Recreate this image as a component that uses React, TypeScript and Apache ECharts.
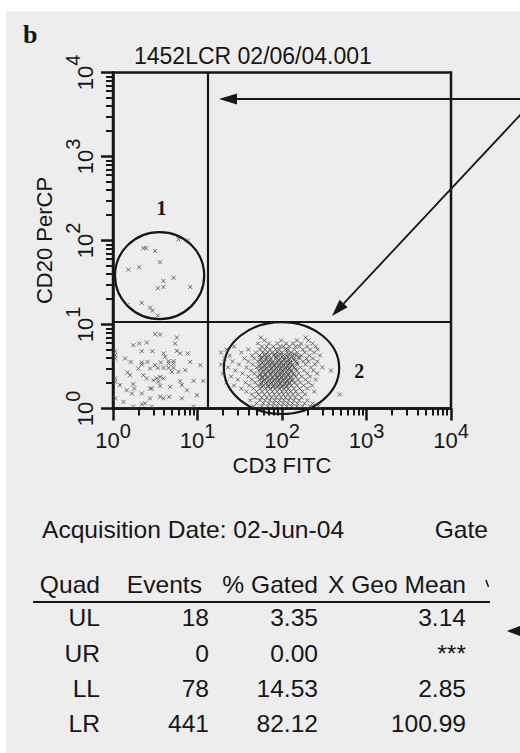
import React, { useEffect, useRef } from 'react';
import * as echarts from 'echarts';

const FONT = '"Liberation Sans", Arial, Helvetica, sans-serif';
const SERIF = '"Liberation Serif", "Times New Roman", Times, serif';
const INK = '#161616';
const DOT = '#474747';

// ---- text ----
const panelLetter = 'b';
const titleText = '1452LCR 02/06/04.001';
const xAxisName = 'CD3 FITC';
const yAxisName = 'CD20 PerCP';
const acquisitionText = 'Acquisition Date: 02-Jun-04';
const gateText = 'Gate';

// ---- axes ----
const axisMin = 1;
const axisMax = 10000;
const minorDecades = [0, 1, 2, 3];
const minorMultipliers = [2, 3, 4, 5, 6, 7, 8, 9];

// ---- quadrant cursors (data units) ----
const quadrantX = 13.4;
const quadrantY = 10.65;

// ---- events ----
const ulPoints: number[][] = [
  [2.29, 81], [2.46, 81], [3.15, 75], [3.61, 55], [1.52, 45], [2.04, 48], [3.95, 33], [5.2, 36],
  [3.95, 28], [3.39, 27], [8.2, 28], [1.49, 17.2], [2.19, 18.1], [2.75, 15.9], [2.93, 14.6],
  [3.39, 12.8], [5.96, 103], [7.7, 100],
];

const llPoints: number[][] = [
  [3.15, 7.67], [3.61, 7.6], [5.7, 7.0], [1.74, 5.67], [2.05, 5.94], [2.51, 6.1], [2.19, 4.81],
  [2.93, 4.81], [3.96, 4.52], [5.7, 4.86], [6.24, 4.52], [7.63, 4.52], [1.06, 4.81], [1.06, 4.31],
  [1.06, 3.94], [1.62, 3.59], [2.19, 3.53], [2.19, 3.34], [2.56, 3.59], [3.15, 3.28], [3.68, 3.53],
  [3.96, 3.05], [4.54, 3.66], [5.2, 3.66], [4.54, 3.43], [5.2, 3.43], [3.39, 3.05], [4.54, 3.05],
  [5.2, 3.05], [7.16, 2.86], [1.49, 2.68], [1.59, 2.49], [2.29, 2.49], [2.51, 2.28], [3.3, 2.28],
  [3.61, 2.38], [3.96, 2.28], [3.45, 2.08], [1.06, 2.28], [1.06, 2.08], [6.24, 2.11], [6.53, 1.9],
  [8.99, 2.13], [11.7, 2.13], [1.74, 1.95], [1.78, 1.73], [1.45, 1.65], [2.19, 1.51], [2.75, 1.73],
  [2.88, 1.73], [3.61, 1.86], [4.75, 1.81], [1.06, 1.32], [2.75, 1.32], [3.61, 1.38], [3.96, 1.32],
  [4.62, 1.38], [6.53, 1.32], [1.74, 1.05], [2.19, 1.12], [2.88, 1.05], [8.99, 1.05], [1.67, 1.51],
  [4.14, 4.12], [4.97, 2.73], [3.01, 2.17], [8.2, 3.59], [2.0, 2.99], [9.84, 1.44], [1.39, 3.94],
  [2.4, 1.15], [5.44, 5.94], [7.48, 1.65], [1.33, 1.2], [10.8, 3.28], [2.75, 2.99], [5.96, 2.73],
  [1.21, 1.9],
];

// LR events, grouped by fluorescence channel row: [CD20 value, CD3 values]
const lrRows: [number, number[]][] = [
  [7.0, [56, 191]],
  [6.45, [62, 98, 150, 205]],
  [5.94, [52, 70, 88, 112, 135, 168, 230]],
  [5.47, [27, 58, 66, 79, 95, 104, 122, 145, 160, 198, 250]],
  [5.04, [22, 40, 55, 63, 72, 84, 92, 110, 118, 140, 176, 215, 265]],
  [4.64, [19, 33, 49, 59, 68, 76, 88, 99, 115, 128, 152, 186, 240]],
  [4.45, [64, 82, 96, 122, 140]],
  [4.27, [24, 44, 54, 62, 71, 80, 90, 104, 112, 133, 148, 170, 210, 280]],
  [4.1, [58, 67, 85, 100, 118, 130, 158]],
  [3.94, [21, 36, 47, 57, 65, 74, 85, 95, 108, 122, 138, 160, 195, 232]],
  [3.78, [55, 64, 73, 92, 106, 120, 140]],
  [3.63, [26, 40, 52, 60, 69, 78, 88, 100, 115, 126, 145, 178, 205, 262]],
  [3.48, [58, 67, 76, 86, 97, 110, 124, 150]],
  [3.34, [19, 31, 45, 55, 63, 72, 82, 93, 104, 118, 134, 152, 190, 245]],
  [3.2, [54, 62, 71, 80, 91, 102, 116, 130]],
  [3.08, [23, 38, 50, 58, 66, 76, 86, 97, 110, 124, 140, 165, 220, 300]],
  [2.95, [56, 64, 74, 84, 95, 107, 121, 145]],
  [2.83, [28, 43, 53, 61, 70, 80, 91, 102, 116, 130, 150, 182, 235, 380]],
  [2.72, [59, 68, 77, 88, 99, 112, 127]],
  [2.61, [20, 34, 47, 56, 64, 74, 84, 95, 107, 120, 137, 158, 200, 260]],
  [2.5, [55, 63, 73, 83, 94, 104, 118, 140]],
  [2.40, [25, 40, 51, 59, 68, 78, 88, 99, 112, 128, 146, 172, 215]],
  [2.3, [58, 66, 76, 87, 98, 110, 125]],
  [2.21, [30, 44, 54, 62, 72, 82, 92, 104, 118, 134, 155, 190, 250]],
  [2.12, [60, 69, 79, 90, 101, 115, 130]],
  [2.04, [22, 37, 48, 57, 66, 75, 86, 97, 109, 123, 142, 165, 205]],
  [1.96, [56, 64, 73, 83, 95, 108, 120]],
  [1.88, [27, 41, 52, 60, 69, 79, 90, 102, 115, 130, 150, 180, 228]],
  [1.8, [58, 68, 78, 88, 99, 112]],
  [1.73, [33, 46, 55, 64, 73, 83, 94, 106, 120, 138, 162, 200]],
  [1.59, [38, 50, 58, 67, 77, 88, 100, 112, 127, 145, 175, 240]],
  [1.47, [44, 53, 62, 71, 81, 92, 104, 118, 135, 155, 188, 480]],
  [1.35, [48, 57, 66, 75, 85, 97, 110, 125, 143, 170]],
  [1.25, [42, 55, 63, 72, 82, 94, 106, 120, 138, 160, 200]],
  [1.15, [50, 60, 70, 80, 91, 103, 117, 133, 152, 185, 230]],
  [1.06, [46, 58, 68, 78, 88, 100, 114, 130, 150, 175, 215, 270]],
];

// ---- gates (data units: x range, y range) ----
const gateNames = ['1', '2'];
const gateXRanges = [[1.056, 12.0], [20.5, 475]];
const gateYRanges = [[11.6, 126], [0.86, 10.7]];
const gateLabelPlacement = [
  { side: 'top', dx: 2, dy: -24 },
  { side: 'right', dx: 20, dy: 3 },
];

// ---- statistics table ----
const tableHeaders = ['Quad', 'Events', '% Gated', 'X Geo Mean'];
const quadNames = ['UL', 'UR', 'LL', 'LR'];
const quadEvents = ['18', '0', '78', '441'];
const quadGated = ['3.35', '0.00', '14.53', '82.12'];
const quadXGeoMean = ['3.14', '***', '2.85', '100.99'];

// layout (pixels)
const headerRight = [100, 202, 318, 466];
const cellRight = [100, 209, 318, 466];
const rowCenters = [618, 654, 689, 724];
const headerCenter = 585;
const TABLE_SIZE = 23;
const TABLE_SX = 1.07;

const XMARK = 'path://M0 0L4 4M4 0L0 4';

const powFormatter = (v: number) => `{b|10}{s|${Math.round(Math.log10(v))}}`;
const xLabelRich = {
  b: { fontSize: 22, fontFamily: FONT, color: INK, lineHeight: 40 },
  s: { fontSize: 20, fontFamily: FONT, color: INK, lineHeight: 20, verticalAlign: 'top' },
};
const yLabelRich = {
  b: { fontSize: 22, fontFamily: FONT, color: INK, lineHeight: 44 },
  s: { fontSize: 20, fontFamily: FONT, color: INK, lineHeight: 20, verticalAlign: 'top' },
};

function tableText(text: string, x: number, y: number, align: string) {
  return {
    type: 'text',
    x,
    y,
    scaleX: TABLE_SX,
    style: {
      text,
      fontFamily: FONT,
      fontSize: TABLE_SIZE,
      fill: INK,
      align,
      verticalAlign: 'middle',
    },
  };
}

function buildOption() {
  const minorTicks = minorDecades.flatMap((d) => minorMultipliers.map((m) => Math.log10(m) + d));
  const lrPoints = lrRows.flatMap(([y, xs]) => xs.map((x) => [x, y]));

  const scatterBase = {
    type: 'scatter',
    symbol: XMARK,
    symbolSize: 4,
    silent: true,
    itemStyle: { color: 'rgba(0,0,0,0)', borderColor: DOT, borderWidth: 1 },
  };

  const tableEls: any[] = [];
  tableEls.push(tableText(acquisitionText, 42, 530, 'left'));
  tableEls.push(tableText(gateText, 488, 530, 'right'));
  tableHeaders.forEach((h, i) => tableEls.push(tableText(h, headerRight[i], headerCenter, 'right')));
  const cols = [quadNames, quadEvents, quadGated, quadXGeoMean];
  cols.forEach((col, ci) =>
    col.forEach((v, ri) => tableEls.push(tableText(v, cellRight[ci], rowCenters[ri], 'right')))
  );

  // arrow B geometry (annotation)
  const bTip = [332, 316];
  const bStart = [522, 113];
  const dx = bStart[0] - bTip[0];
  const dy = bStart[1] - bTip[1];
  const len = Math.hypot(dx, dy);
  const ux = dx / len;
  const uy = dy / len;
  const bBase = [bTip[0] + ux * 17, bTip[1] + uy * 17];
  const px = -uy * 5.5;
  const py = ux * 5.5;

  const labelBase = { fontSize: 22, fontFamily: FONT, color: INK };

  return {
    animation: false,
    backgroundColor: 'transparent',
    title: {
      text: titleText,
      left: 134,
      top: 44,
      padding: 0,
      textStyle: { fontFamily: FONT, fontSize: 23, fontWeight: 'normal', color: INK },
    },
    grid: {
      left: 113,
      top: 72.5,
      width: 338,
      height: 336,
      show: true,
      borderColor: INK,
      borderWidth: 2.5,
      backgroundColor: 'transparent',
    },
    xAxis: [
      {
        type: 'log',
        logBase: 10,
        min: axisMin,
        max: axisMax,
        position: 'bottom',
        name: xAxisName,
        nameLocation: 'middle',
        nameGap: 46,
        nameTextStyle: { fontFamily: FONT, fontSize: 22, color: INK },
        axisLine: { show: true, lineStyle: { color: INK, width: 2.5 } },
        axisTick: { show: true, length: 12, lineStyle: { color: INK, width: 2.5 } },
        axisLabel: { ...labelBase, margin: 12, formatter: powFormatter, rich: xLabelRich },
        splitLine: { show: false },
      },
      {
        type: 'value',
        min: 0,
        max: 4,
        position: 'top',
        offset: -336,
        axisLine: { show: false },
        axisTick: { show: true, inside: true, length: 7, customValues: minorTicks, lineStyle: { color: INK, width: 2 } },
        axisLabel: { show: false },
        splitLine: { show: false },
      },
    ],
    yAxis: [
      {
        type: 'log',
        logBase: 10,
        min: axisMin,
        max: axisMax,
        position: 'left',
        name: yAxisName,
        nameLocation: 'middle',
        nameGap: 45,
        nameRotate: 90,
        nameTextStyle: { fontFamily: FONT, fontSize: 22, color: INK },
        axisLine: { show: true, lineStyle: { color: INK, width: 2.5 } },
        axisTick: { show: true, length: 12, lineStyle: { color: INK, width: 2.5 } },
        axisLabel: { ...labelBase, margin: 6, rotate: 90, formatter: powFormatter, rich: yLabelRich },
        splitLine: { show: false },
      },
      {
        type: 'value',
        min: 0,
        max: 4,
        position: 'right',
        offset: -338,
        axisLine: { show: false },
        axisTick: { show: true, inside: true, length: 7, customValues: minorTicks, lineStyle: { color: INK, width: 2 } },
        axisLabel: { show: false },
        splitLine: { show: false },
      },
    ],
    series: [
      {
        ...scatterBase,
        name: 'UL',
        data: ulPoints,
        markLine: {
          silent: true,
          symbol: ['none', 'none'],
          label: { show: false },
          lineStyle: { color: INK, width: 2.2, type: 'solid' },
          data: [{ xAxis: quadrantX }, { yAxis: quadrantY }],
        },
      },
      { ...scatterBase, name: 'LL', data: llPoints },
      { ...scatterBase, name: 'LR', data: lrPoints },
      {
        type: 'custom',
        name: 'gates',
        silent: true,
        clip: false,
        encode: { x: [0, 1], y: [2, 3] },
        data: gateNames.map((_, i) => [gateXRanges[i][0], gateXRanges[i][1], gateYRanges[i][0], gateYRanges[i][1]]),
        renderItem: (params: any, api: any) => {
          const a = api.coord([api.value(0), api.value(2)]);
          const b = api.coord([api.value(1), api.value(3)]);
          const cx = (a[0] + b[0]) / 2;
          const cy = (a[1] + b[1]) / 2;
          const rx = Math.abs(b[0] - a[0]) / 2;
          const ry = Math.abs(b[1] - a[1]) / 2;
          const pl = gateLabelPlacement[params.dataIndex];
          const lx = pl.side === 'right' ? cx + rx + pl.dx : cx + pl.dx;
          const ly = pl.side === 'top' ? cy - ry + pl.dy : cy + pl.dy;
          return {
            type: 'group',
            children: [
              { type: 'ellipse', shape: { cx, cy, rx, ry }, style: { fill: 'none', stroke: INK, lineWidth: 2.2 } },
              {
                type: 'text',
                x: lx,
                y: ly,
                style: {
                  text: gateNames[params.dataIndex],
                  fontFamily: SERIF,
                  fontWeight: 'bold',
                  fontSize: 20,
                  fill: INK,
                  align: 'center',
                  verticalAlign: 'middle',
                },
              },
            ],
          };
        },
      },
    ],
    graphic: {
      elements: [
        { type: 'rect', z: -100, shape: { x: 6, y: 11, width: 514, height: 742 }, style: { fill: '#ededed' }, silent: true },
        {
          type: 'text',
          x: 23,
          y: 34,
          style: { text: panelLetter, fontFamily: SERIF, fontWeight: 'bold', fontSize: 26, fill: INK, align: 'left', verticalAlign: 'middle' },
        },
        // arrow A
        { type: 'line', shape: { x1: 236, y1: 99, x2: 522, y2: 99 }, style: { stroke: INK, lineWidth: 1.8 } },
        { type: 'polygon', shape: { points: [[219, 99], [237, 93.5], [237, 104.5]] }, style: { fill: INK } },
        // arrow B
        { type: 'line', shape: { x1: bStart[0], y1: bStart[1], x2: bBase[0], y2: bBase[1] }, style: { stroke: INK, lineWidth: 1.8 } },
        {
          type: 'polygon',
          shape: { points: [bTip, [bBase[0] + px, bBase[1] + py], [bBase[0] - px, bBase[1] - py]] },
          style: { fill: INK },
        },
        // arrow C
        { type: 'polygon', shape: { points: [[507, 631], [521, 625.5], [521, 636.5]] }, style: { fill: INK } },
        // table rule
        { type: 'line', shape: { x1: 33, y1: 602, x2: 490, y2: 602 }, style: { stroke: INK, lineWidth: 2.2 } },
        { type: 'line', shape: { x1: 486, y1: 580, x2: 488.5, y2: 587 }, style: { stroke: INK, lineWidth: 1.5 } },
        ...tableEls,
      ],
    },
  };
}

export default function App() {
  const ref = useRef<HTMLDivElement>(null);
  useEffect(() => {
    if (!ref.current) return;
    const chart = echarts.init(ref.current, null, { renderer: 'svg' });
    chart.setOption(buildOption() as any);
    return () => chart.dispose();
  }, []);
  return (
    <div style={{ position: 'fixed', left: 0, top: 0, width: 520, height: 753, background: '#ffffff' }}>
      <div ref={ref} style={{ width: 520, height: 753 }} />
    </div>
  );
}
